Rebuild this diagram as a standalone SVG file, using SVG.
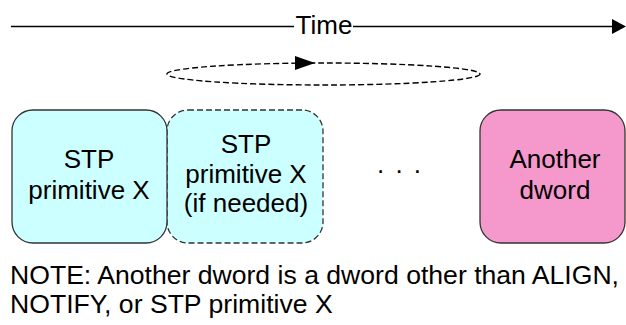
<svg xmlns="http://www.w3.org/2000/svg" width="626" height="325" viewBox="0 0 626 325">
<style>
text{font-family:"Liberation Sans",Arial,sans-serif;font-size:26px;fill:#000}
.c{text-anchor:middle}
.box{stroke:#333;stroke-width:1.3}
.stp{fill:#CCFFFF}
.dash{stroke-dasharray:6 3}
.ln{stroke:#000;stroke-width:1.4;fill:none}
.note{font-size:26.6px}
</style>
<g id="connectors">
<line class="ln" x1="11" y1="26.5" x2="294" y2="26.5"/>
<line class="ln" x1="353" y1="26.5" x2="614" y2="26.5"/>
<polygon points="612,19 626,26.5 612,34" fill="#000"/>
<ellipse class="ln dash" cx="323.5" cy="74" rx="156.5" ry="11"/>
<polygon points="295,56 315,63 295,70" fill="#000"/>
</g>
<g id="time-label"><text class="c" x="324" y="34">Time</text></g>
<g id="stp2">
<rect class="box stp dash" x="167" y="110" width="156" height="133" rx="21" ry="21"/>
<text class="c" x="246" y="153">STP</text>
<text class="c" x="246" y="183">primitive X</text>
<text class="c" x="246" y="212">(if needed)</text>
</g>
<g id="stp1">
<rect class="box stp" x="12" y="110" width="155" height="133" rx="21" ry="21"/>
<text class="c" x="89" y="168">STP</text>
<text class="c" x="89" y="199">primitive X</text>
</g>
<g id="dots"><text class="c" x="400" y="173" letter-spacing="2">. . .</text></g>
<g id="another">
<rect class="box" x="480" y="110" width="145" height="133" rx="21" ry="21" fill="#F599CC"/>
<text class="c" x="555" y="168">Another</text>
<text class="c" x="555" y="199">dword</text>
</g>
<g id="note">
<text class="note" x="10" y="284">NOTE: Another dword is a dword other than ALIGN,</text>
<text class="note" x="10" y="313">NOTIFY, or STP primitive X</text>
</g>
</svg>
